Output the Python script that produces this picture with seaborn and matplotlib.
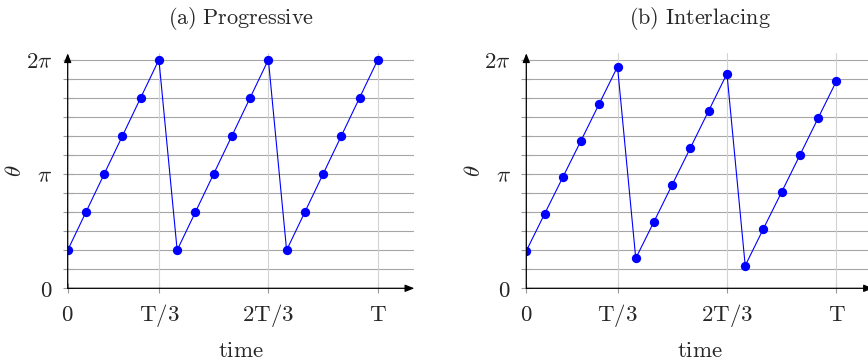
import numpy as np
import pandas as pd
import matplotlib
matplotlib.use("Agg")
import matplotlib.pyplot as plt
import seaborn as sns

# Sample index along the time axis (18 samples, three periods of six)
step = list(range(18))
# Phase in units of pi
progressive = [1/3, 2/3, 1, 4/3, 5/3, 2,
               1/3, 2/3, 1, 4/3, 5/3, 2,
               1/3, 2/3, 1, 4/3, 5/3, 2]
interlacing = [0.327, 0.650, 0.971, 1.292, 1.615, 1.939,
               0.262, 0.583, 0.907, 1.230, 1.554, 1.878,
               0.198, 0.522, 0.843, 1.166, 1.490, 1.813]

panel_titles = ["(a) Progressive", "(b) Interlacing"]
xtick_pos = [0, 5, 11, 17]
xtick_labels = ["0", "T/3", "2T/3", "T"]
ytick_labels = {0: "0", 6: r"\pi", 12: r"2\pi"}

sns.set_theme(style="white")
plt.rcParams["mathtext.fontset"] = "cm"
plt.rcParams["font.family"] = ["DejaVu Serif"]

FS = 16.5
fig = plt.figure(figsize=(8.68, 3.61), dpi=100)
W, H = 868, 361
x_max = 19.0
y_top = 2 * np.pi * 1.028
ax_px_w = 346.6
ax_px_h = 288.3 - 53.3
lefts = [67.7 / W, 526.3 / W]
bottom = (H - 288.3) / H


def mrm(s):
    return r"$\mathrm{" + s.replace(" ", r"\ ") + "}$"


for left, title, values in zip(lefts, panel_titles, [progressive, interlacing]):
    ax = fig.add_axes([left, bottom, ax_px_w / W, ax_px_h / H])
    df = pd.DataFrame({"t": step, "theta": np.array(values) * np.pi})

    # grid: horizontal every pi/6, vertical at the period boundaries
    for k in range(1, 13):
        ax.axhline(k * np.pi / 6, color="#a6a6a6", lw=0.8, zorder=1)
    for xp in xtick_pos[1:]:
        ax.axvline(xp, color="#d3d3d3", lw=0.8, zorder=1)

    sns.lineplot(data=df, x="t", y="theta", ax=ax, color="#0000ff",
                 lw=0.8, marker="o", markersize=6.7, markeredgewidth=0,
                 zorder=3, estimator=None)

    ax.set_xlim(0, x_max)
    ax.set_ylim(0, y_top)
    for s in ax.spines.values():
        s.set_visible(False)

    # axes drawn as arrows
    arrow = dict(arrowstyle="-|>,head_length=0.45,head_width=0.18",
                 color="black", lw=0.9, shrinkA=0, shrinkB=0)
    ax.annotate("", xy=(x_max, 0), xytext=(0, 0), arrowprops=arrow,
                annotation_clip=False, zorder=4)
    ax.annotate("", xy=(0, y_top), xytext=(0, 0), arrowprops=arrow,
                annotation_clip=False, zorder=4)

    ax.set_yticks([k * np.pi / 6 for k in range(13)])
    ax.set_yticklabels(["$" + ytick_labels[k] + "$" if k in ytick_labels else ""
                        for k in range(13)])
    ax.set_xticks(xtick_pos)
    ax.set_xticklabels([mrm(s) for s in xtick_labels])
    ax.tick_params(axis="both", which="major", direction="inout", length=6.5,
                   width=0.8, color="#999999", labelsize=FS, left=True,
                   bottom=True)
    ax.tick_params(axis="x", pad=20)
    ax.tick_params(axis="y", pad=8)
    for lab in ax.get_xticklabels():
        lab.set_verticalalignment("baseline")

    ax.set_xlabel(mrm("time"), fontsize=FS, va="baseline")
    ax.xaxis.set_label_coords(0.5, -69 / ax_px_h)
    ax.set_ylabel(r"$\theta$", fontsize=FS, va="center", ha="center")
    ax.yaxis.set_label_coords(-(67.7 - 15) / ax_px_w, 0.5)
    ax.set_title(mrm(title), fontsize=16, y=1 + 29 / ax_px_h, va="baseline",
                 pad=0)

fig.savefig("out.png", dpi=100)
